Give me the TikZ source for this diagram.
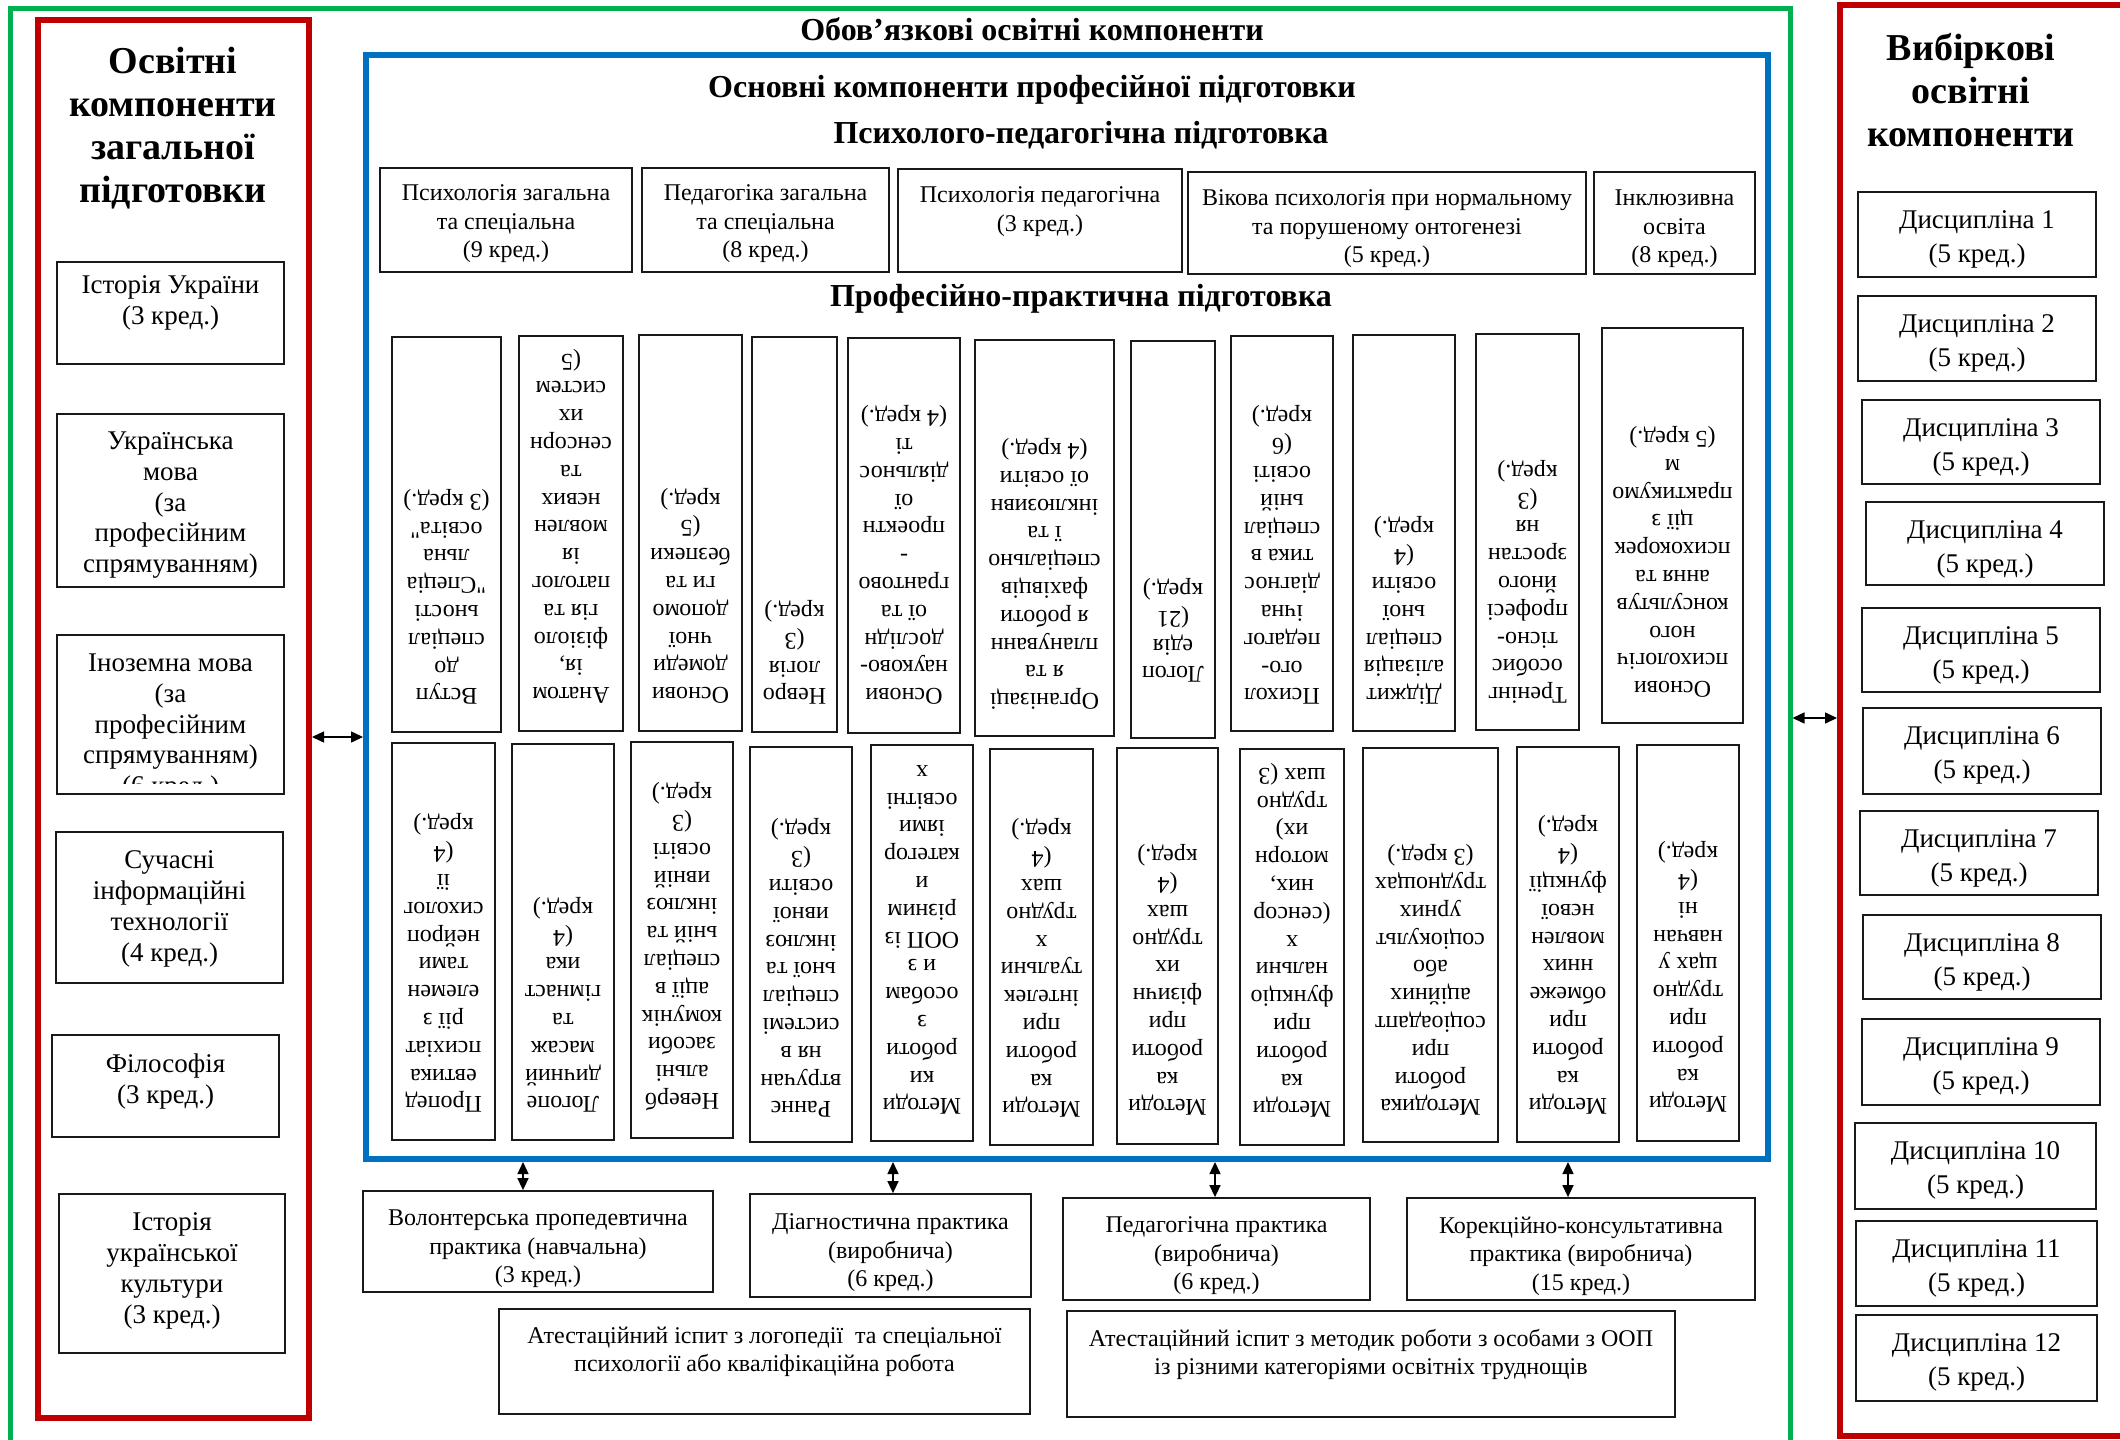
\documentclass[tikz,border=0pt]{standalone}
\usepackage{fontspec}
\setmainfont{Liberation Serif}
\usetikzlibrary{fit,arrows.meta}
\definecolor{cgreen}{RGB}{0,176,80}
\definecolor{cred}{RGB}{192,0,0}
\definecolor{cblue}{RGB}{0,112,192}
\newcommand\qq{\XeTeXglyph\XeTeXcharglyph"22\relax}
\newcommand\mkrot[7]{%
  \node[box, fit={(#2,#3)(#4,#5)}] (#1) {};
  \begin{scope}
    \clip ([shift={(3pt,-5pt)}]#1.north west) rectangle ([shift={(-3pt,3pt)}]#1.south east);
    \node[rt] (#1t) at (#1.center |- 0,#6) {#7};
  \end{scope}}
\newcommand\mkbox[8]{%
  \node[box, fit={(#2,#3)(#4,#5)}] (#1) {};
  \node[#6] (#1t) at (#1.center |- 0,#7) {#8};}
\begin{document}
\begin{tikzpicture}[x=0.5pt,y=-0.5pt,
  box/.style={draw=black!90, line width=0.9pt, inner sep=0pt},
  txs/.style={font=\fontsize{12}{14.2}\selectfont, align=center, inner sep=0pt, anchor=north},
  rt/.style={font=\fontsize{12}{13.9}\selectfont, align=center, inner sep=0pt, rotate=180, anchor=north},
  txm/.style={font=\fontsize{13.5}{15.4}\selectfont, align=center, inner sep=0pt, anchor=north},
  txd/.style={font=\fontsize{13.5}{17}\selectfont, align=center, inner sep=0pt, anchor=north},
  ttl/.style={font=\bfseries\fontsize{16}{19}\selectfont, inner sep=0pt, anchor=base},
  bigt/.style={font=\bfseries\fontsize{19}{21.5}\selectfont, align=center, inner sep=0pt, anchor=north},
  dbl/.style={{Triangle[length=6pt,width=5.5pt]}-{Triangle[length=6pt,width=5.5pt]}, line width=0.75pt},
]
\fill[white] (0,0) rectangle (2120,1440);
\useasboundingbox (0,0) rectangle (2120,1440);

% frames
\node[draw=cgreen, line width=2.5pt, inner sep=0pt, fit={(10,8)(1790,1442)}] (gfr) {};
\node[draw=cred, line width=3pt, inner sep=0pt, fit={(38,20)(309,1418)}] (lred) {};
\node[draw=cred, line width=3pt, inner sep=0pt, fit={(1840,5)(2126,1436)}] (rred) {};
\node[draw=cblue, line width=3pt, inner sep=0pt, fit={(366,55)(1768,1159)}] (blue) {};

% titles
\node[ttl] (t0) at (1032,40) {Обов’язкові освітні компоненти};
\node[ttl] (t1) at (1032,97) {Основні компоненти професійної підготовки};
\node[ttl] (t2) at (1081,143) {Психолого-педагогічна підготовка};
\node[ttl] (t3) at (1081,306) {Професійно-практична підготовка};
\node[bigt] (lt) at (173,47) {Освітні\\компоненти\\загальної\\підготовки};
\node[bigt] (rtt) at (1971,33) {Вибіркові\\освітні\\компоненти};

% left column
\mkbox{l1}{57}{262}{284}{364}{txm}{275.5}{Історія України\\(3 кред.)}
\mkbox{l2}{57}{414}{284}{587}{txm}{431.5}{Українська\\мова\\(за\\професійним\\спрямуванням)}
\node[box, fit={(57,635)(284,794)}] (l3) {};
\begin{scope}
  \clip (l3.north west) rectangle (l3.east |- 0,783);
  \node[txm] (l3t) at (l3.center |- 0,653.5) {Іноземна мова\\(за\\професійним\\спрямуванням)\\(6 кред.)};
\end{scope}
\mkbox{l4}{56}{832}{283}{983}{txm}{850.5}{Сучасні\\інформаційні\\технології\\(4 кред.)}
\mkbox{l5}{52}{1035}{279}{1137}{txm}{1053.5}{Філософія\\(3 кред.)}
\mkbox{l6}{59}{1194}{285}{1353}{txm}{1212.5}{Історія\\української\\культури\\(3 кред.)}

% right column
\mkbox{r1}{1858}{192}{2096}{277}{txd}{210.5}{Дисципліна 1\\(5 кред.)}
\mkbox{r2}{1858}{296}{2096}{381}{txd}{314.5}{Дисципліна 2\\(5 кред.)}
\mkbox{r3}{1862}{400}{2100}{484}{txd}{418.5}{Дисципліна 3\\(5 кред.)}
\mkbox{r4}{1866}{502}{2104}{585}{txd}{520.5}{Дисципліна 4\\(5 кред.)}
\mkbox{r5}{1862}{608}{2100}{692}{txd}{626.5}{Дисципліна 5\\(5 кред.)}
\mkbox{r6}{1863}{708}{2101}{794}{txd}{726.5}{Дисципліна 6\\(5 кред.)}
\mkbox{r7}{1860}{811}{2098}{895}{txd}{829.5}{Дисципліна 7\\(5 кред.)}
\mkbox{r8}{1863}{915}{2101}{999}{txd}{933.5}{Дисципліна 8\\(5 кред.)}
\mkbox{r9}{1862}{1019}{2100}{1105}{txd}{1037.5}{Дисципліна 9\\(5 кред.)}
\mkbox{r10}{1855}{1123}{2096}{1209}{txd}{1141.5}{Дисципліна 10\\(5 кред.)}
\mkbox{r11}{1856}{1221}{2097}{1306}{txd}{1239.5}{Дисципліна 11\\(5 кред.)}
\mkbox{r12}{1856}{1315}{2097}{1401}{txd}{1333.5}{Дисципліна 12\\(5 кред.)}

% psycho-pedagogical
\mkbox{tb1}{380}{168}{632}{272}{txs}{184.5}{Психологія загальна\\та спеціальна\\(9 кред.)}
\mkbox{tb2}{642}{168}{889}{272}{txs}{184.5}{Педагогіка загальна\\та спеціальна\\(8 кред.)}
\mkbox{tb3}{898}{169}{1182}{272}{txs}{186.5}{Психологія педагогічна\\(3 кред.)}
\mkbox{tb4}{1188}{172}{1586}{274}{txs}{189.5}{Вікова психологія при нормальному\\та порушеному онтогенезі\\(5 кред.)}
\mkbox{tb5}{1594}{172}{1755}{274}{txs}{189.5}{Інклюзивна\\освіта\\(8 кред.)}

% professional-practical, upper row
\mkrot{b1}{392}{337}{501}{732}{705}{Вступ\\до\\спеціал\\ьності\\\qq Спеціа\\льна\\освіта\qq\\(3 кред.)}
\mkrot{b2}{519}{336}{623}{731}{704}{Анатом\\ія,\\фізіоло\\гія та\\патолог\\ія\\мовлен\\нєвих\\та\\сенсорн\\их\\систем\\(5}
\mkrot{b3}{639}{335}{742}{731}{704}{Основи\\домеди\\чної\\допомо\\ги та\\безпеки\\(5\\кред.)}
\mkrot{b4}{752}{337}{837}{732}{705}{Невро\\логія\\(3\\кред.)}
\mkrot{b5}{848}{338}{960}{733}{705}{Основи\\науково-\\дослідн\\ої та\\грантово\\-\\проектн\\ої\\діяльнос\\ті\\(4 кред.)}
\mkrot{b6}{975}{340}{1114}{736}{710}{Організаці\\я та\\плануванн\\я роботи\\фахівців\\спеціально\\ї та\\інклюзивн\\ої освіти\\(4 кред.)}
\mkrot{b7}{1131}{341}{1215}{738}{683}{Логоп\\едія\\(21\\кред.)}
\mkrot{b8}{1231}{336}{1333}{731}{705}{Психол\\ого-\\педагог\\ічна\\діагнос\\тика в\\спеціал\\ьній\\освіті\\(6\\кред.)}
\mkrot{b9}{1353}{335}{1455}{731}{705}{Діджит\\алізація\\спеціал\\ьної\\освіти\\(4\\кред.)}
\mkrot{b10}{1476}{334}{1579}{730}{704}{Тренінг\\особис\\тісно-\\професі\\йного\\зростан\\ня\\(3\\кред.)}
\mkrot{b11}{1602}{328}{1743}{723}{698}{Основи\\психологіч\\ного\\консультув\\ання та\\психокорек\\ції з\\практикумо\\м\\(5 кред.)}

% professional-practical, lower row
\mkrot{c1}{392}{743}{495}{1140}{1113}{Пропед\\евтика\\психіат\\рії з\\елемен\\тами\\нейроп\\сихолог\\ії\\(4\\кред.)}
\mkrot{c2}{512}{744}{614}{1140}{1113}{Логопе\\дичний\\масаж\\та\\гімнаст\\ика\\(4\\кред.)}
\mkrot{c3}{631}{742}{733}{1138}{1111}{Неверб\\альні\\засоби\\комунік\\ації в\\спеціал\\ьній та\\інклюз\\ивній\\освіті\\(3\\кред.)}
\mkrot{c4}{750}{747}{852}{1142}{1118}{Раннє\\втручан\\ня в\\системі\\спеціал\\ьної та\\інклюз\\ивної\\освіти\\(3\\кред.)}
\mkrot{c5}{871}{745}{973}{1141}{1115}{Методи\\ки\\роботи\\з\\особам\\и з\\ООП із\\різним\\и\\категор\\іями\\освітні\\х}
\mkrot{c6}{990}{749}{1093}{1145}{1118}{Методи\\ка\\роботи\\при\\інтелек\\туальни\\х\\трудно\\шах\\(4\\кред.)}
\mkrot{c7}{1117}{748}{1218}{1144}{1116}{Методи\\ка\\роботи\\при\\фізичн\\их\\трудно\\шах\\(4\\кред.)}
\mkrot{c8}{1240}{749}{1344}{1145}{1118}{Методи\\ка\\роботи\\при\\функціо\\нальни\\х\\(сенсор\\них,\\моторн\\их)\\трудно\\шах (3}
\mkrot{c9}{1363}{748}{1498}{1142}{1116}{Методика\\роботи\\при\\соціоадапт\\аційних\\або\\соціокульт\\урних\\труднощах\\(3 кред.)}
\mkrot{c10}{1517}{747}{1619}{1142}{1115}{Методи\\ка\\роботи\\при\\обмеже\\нних\\мовлен\\нєвої\\функції\\(4\\кред.)}
\mkrot{c11}{1637}{745}{1739}{1141}{1113}{Методи\\ка\\роботи\\при\\трудно\\щах у\\навчан\\ні\\(4\\кред.)}

% practices and exams
\mkbox{p1}{363}{1191}{713}{1292}{txs}{1209.5}{Волонтерська пропедевтична\\практика (навчальна)\\(3 кред.)}
\mkbox{p2}{750}{1194}{1031}{1297}{txs}{1213.5}{Діагностична практика\\(виробнича)\\(6 кред.)}
\mkbox{p3}{1063}{1198}{1370}{1300}{txs}{1216.5}{Педагогічна практика\\(виробнича)\\(6 кред.)}
\mkbox{p4}{1407}{1198}{1755}{1300}{txs}{1216.5}{Корекційно-консультативна\\практика (виробнича)\\(15 кред.)}
\mkbox{a1}{499}{1309}{1030}{1414}{txs}{1326.5}{Атестаційний іспит з логопедії \ та спеціальної\\психології або кваліфікаційна робота}
\mkbox{a2}{1067}{1311}{1675}{1417}{txs}{1328.5}{Атестаційний іспит з методик роботи з особами з ООП\\із різними категоріями освітніх труднощів}

% connectors
\coordinate (ax1) at (523,0);
\coordinate (ax2) at (893,0);
\coordinate (ax3) at (1215,0);
\coordinate (ax4) at (1568,0);
\draw[dbl] (blue.south -| ax1) -- (p1.north -| ax1);
\draw[dbl] (blue.south -| ax2) -- (p2.north -| ax2);
\draw[dbl] (blue.south -| ax3) -- (p3.north -| ax3);
\draw[dbl] (blue.south -| ax4) -- (p4.north -| ax4);
\coordinate (hy1) at (0,737);
\coordinate (hy2) at (0,718);
\draw[dbl] (lred.east |- hy1) -- (blue.west |- hy1);
\draw[dbl] (gfr.east |- hy2) -- (rred.west |- hy2);
\end{tikzpicture}
\end{document}
